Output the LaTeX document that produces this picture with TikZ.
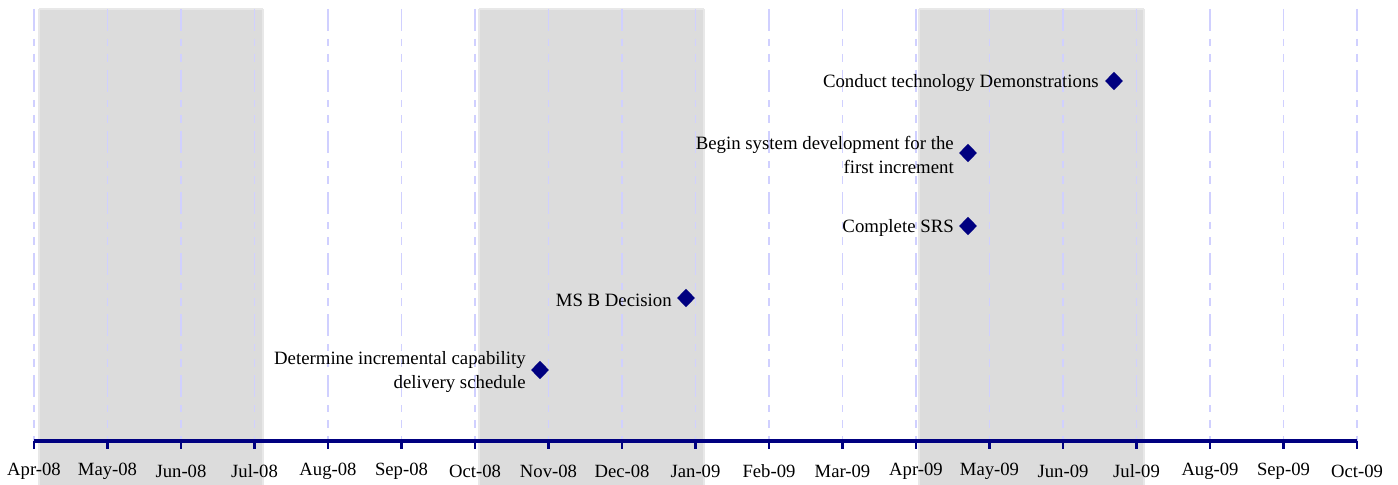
\documentclass[tikz,border=0pt]{standalone}
\usepackage{fontspec}
\setmainfont{Liberation Serif}
\usetikzlibrary{shapes.geometric}
\definecolor{band}{RGB}{220,220,220}
\definecolor{bandedge}{RGB}{232,232,232}
\definecolor{gridc}{RGB}{208,208,255}
\definecolor{axisc}{RGB}{0,0,128}
\tikzset{
  gridline/.style={draw=gridc, line width=0.9pt, dash pattern=on 16.5pt off 6pt on 5.25pt off 6pt on 6pt off 6pt},
  axisline/.style={draw=axisc, line width=3pt},
  tickmark/.style={draw=axisc, line width=2.2pt},
  milestone/.style={diamond, fill=axisc, inner sep=0pt, minimum width=13.5pt, minimum height=14pt},
  mlabel/.style={anchor=east, align=right, inner sep=0pt, font=\fontsize{14.1}{18}\selectfont},
  month/.style={font=\fontsize{14}{15}\selectfont, inner sep=0pt}
}
\begin{document}
\begin{tikzpicture}[x=0.75pt, y=-0.75pt]
\useasboundingbox (0,0) rectangle (1398,485);
% shaded bands
\fill[band] (40,10) rectangle (262,487);
\fill[band] (480,10) rectangle (703,487);
\fill[band] (920,10) rectangle (1143,487);
\draw[bandedge, line width=1.5pt] (39,9) -- (263,9) (263,9) -- (263,487) (39,9) -- (39,487);
\draw[bandedge, line width=1.5pt] (479,9) -- (704,9) (704,9) -- (704,487) (479,9) -- (479,487);
\draw[bandedge, line width=1.5pt] (919,9) -- (1144,9) (1144,9) -- (1144,487) (919,9) -- (919,487);
% grid lines, ticks, month labels
\foreach \i/\m in {0/Apr-08,1/May-08,2/Jun-08,3/Jul-08,4/Aug-08,5/Sep-08,6/Oct-08,7/Nov-08,8/Dec-08,9/Jan-09,10/Feb-09,11/Mar-09,12/Apr-09,13/May-09,14/Jun-09,15/Jul-09,16/Aug-09,17/Sep-09,18/Oct-09}{
  \pgfmathsetmacro{\xx}{34+73.5*\i}
  \path[gridline] (\xx,9) -- (\xx,441);
  \path[tickmark] (\xx,441) -- (\xx,449);
  \node[month] (m\i) at (\xx,471) {\m};
}
% axis
\coordinate (axL) at (34,441);
\coordinate (axR) at (1357,441);
\path[axisline] (axL) -- (axR);
% milestones
\node[milestone] (d1) at (1114,81) {};
\node[milestone] (d2) at (968,153) {};
\node[milestone] (d3) at (968,226) {};
\node[milestone] (d4) at (686,298) {};
\node[milestone] (d5) at (540,370) {};
\node[mlabel] (l1) at (1099,83) {Conduct technology Demonstrations};
\node[mlabel] (l2) at (954,155) {Begin system development for the\\first increment};
\node[mlabel] (l3) at (954,228) {Complete SRS};
\node[mlabel] (l4) at (672,300) {MS B Decision};
\node[mlabel] (l5) at (526,372) {Determine incremental capability\\delivery schedule};
\end{tikzpicture}
\end{document}
